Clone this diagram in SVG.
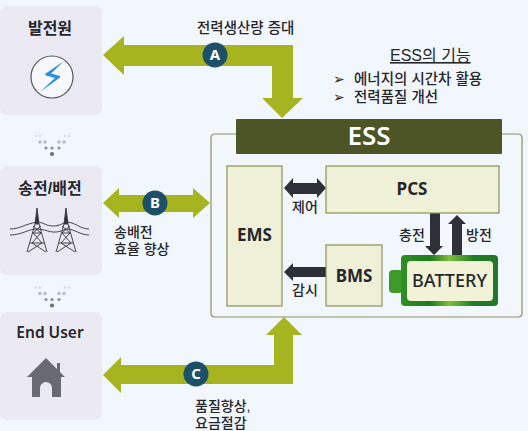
<svg xmlns="http://www.w3.org/2000/svg" width="528" height="431" viewBox="0 0 528 431">
<defs>
<style>
text{font-family:"Liberation Sans","Noto Sans CJK KR","Noto Sans",sans-serif;fill:#26262b}
.t{font-size:14px;font-weight:500}
.l{font-size:14.5px;font-weight:500}
.h{font-size:16px;font-weight:700;text-anchor:middle}
.b{font-size:17px;font-weight:700;text-anchor:middle;font-family:"Noto Sans","Noto Sans CJK KR",sans-serif}
.panel{fill:#ebeaf3}
.green{fill:#a6b41f}
.dark{fill:#2e3038}
.box{fill:#eff0d8;stroke:#8c9150;stroke-width:1.2}
.badge{fill:#1c4f68}
.bt{font-size:15px;font-weight:700;fill:#fff;text-anchor:middle;font-family:"Noto Sans",sans-serif}
.tower{fill:none;stroke:#33333a;stroke-width:.9}
</style>
<linearGradient id="batt" x1="0" y1="0" x2="1" y2="0">
<stop offset="0" stop-color="#2f8f24"/><stop offset=".3" stop-color="#1f7a1f"/><stop offset=".5" stop-color="#7fbf3a"/><stop offset=".75" stop-color="#1f7d22"/><stop offset="1" stop-color="#23762a"/>
</linearGradient>
<g id="dots">
<circle cx="36" cy="136" r="1.3" fill="#dcdce6"/><circle cx="40" cy="136" r="1.3" fill="#dcdce6"/><circle cx="65" cy="136" r="1.3" fill="#dcdce6"/><circle cx="69" cy="136" r="1.3" fill="#dcdce6"/>
<circle cx="40" cy="142" r="1.7" fill="#b8b8c6"/><circle cx="45" cy="142" r="1.7" fill="#b8b8c6"/><circle cx="59" cy="142" r="1.7" fill="#b8b8c6"/><circle cx="64" cy="142" r="1.7" fill="#b8b8c6"/>
<circle cx="46" cy="148" r="1.6" fill="#8f8f9c"/><circle cx="52" cy="148" r="1.6" fill="#8f8f9c"/><circle cx="59" cy="148" r="1.6" fill="#8f8f9c"/>
<circle cx="52" cy="154" r="2.1" fill="#6f6f7c"/>
</g>
</defs>
<rect width="528" height="431" fill="#f2f6fd"/>
<g id="node-generation">
<rect x="0" y="6" width="102" height="109" rx="7" class="panel"/>
<text x="50" y="34" class="h">발전원</text>
<circle cx="52" cy="77" r="21" fill="#f7f8fc" stroke="#55555f" stroke-width="1.2"/>
<path d="M64 61L45 74L46 75.500L55 78L40 92L60 77.500L60 76L51 73.500Z" fill="#2a8fe0"/>
</g>
<g id="node-transmission">
<rect x="0" y="166" width="102" height="109" rx="7" class="panel"/>
<text x="50" y="194" class="h">송전/배전</text>
<g id="towers" class="tower">
<path d="M37 208L39 224H35ZM66 208L68 224H64Z" fill="#33333a"/>
<path d="M27 252L35 224M47 252L39 224M56 252L64 224M76 252L68 224M30 243H44M59 243H73M33 233H41M62 233H70M28 252L42 243L33 233L41 226M46 252L32 243L41 233L33 226M57 252L71 243L62 233L70 226M75 252L61 243L70 233L62 226"/>
<path d="M10 229C20 229 25 224 37 222C45 222 50 231 66 222C75 222 80 229 89 229M10 235C22 235 28 229 37 229C48 229 52 236 66 229C75 229 80 235 89 235"/>
</g>
</g>
<g id="node-enduser">
<rect x="0" y="312" width="102" height="108" rx="7" class="panel"/>
<text x="50" y="338" style="font-family:'Noto Sans',sans-serif;font-size:15.500px;font-weight:600;text-anchor:middle">End User</text>
<path d="M46 358L27 377H32V397H40V388A6 6 0 0 1 52 388V397H61V377H65L60 372V363H57V369Z" fill="#6a6a72"/>
</g>
<use href="#dots"/>
<use href="#dots" transform="translate(0 151.500)"/>
<g id="connectors">
<path class="green" d="M103 55L124 36V45H293V98H303L282 118L262 98H272V66H124V75Z"/>
<path class="green" d="M103 203L119 188V195H193V188L210 203L193 218V212H119V218Z"/>
<path class="green" d="M103 375L121 357V365H274V335H266L284 317L302 335H293V384H121V393Z"/>
<path class="dark" d="M284 188L293 178V183H317V178L326 188L317 198V194H293V198Z"/>
<path class="dark" d="M284 272L293 263V267H326V277H293V281Z"/>
<path class="dark" d="M430 213H440V246H443L434 255L425 246H430Z"/>
<path class="dark" d="M452 255V224H448L457 215L466 224H462V255Z"/>
</g>
<g id="node-ess">
<path d="M236 134H215Q211 134 211 138V313Q211 317 215 317H518Q522 317 522 313V138Q522 134 518 134H500" fill="none" stroke="#8c9160" stroke-width="1.2"/>
<rect x="236" y="119" width="266" height="35" rx="1" fill="#4d5526"/>
<text x="369" y="145" text-anchor="middle" style="font-family:'Noto Sans',sans-serif;font-size:26px;font-weight:600;fill:#fff">ESS</text>
</g>
<g id="node-ems"><rect x="227" y="166" width="55" height="140" class="box"/><text x="254.500" y="241" class="b">EMS</text></g>
<g id="node-pcs"><rect x="326" y="166" width="173" height="47" class="box"/><text x="412" y="195" class="b">PCS</text></g>
<g id="node-bms"><rect x="326" y="245" width="56" height="61" class="box"/><text x="354" y="282" class="b">BMS</text></g>
<g id="node-battery">
<rect x="389" y="270" width="14" height="23" rx="4" fill="#3f9a2b"/>
<rect x="401" y="255" width="97" height="51" rx="4" fill="url(#batt)"/>
<rect x="407" y="261" width="86" height="40" rx="4" fill="#f1f2d6"/>
<text x="449.500" y="287" text-anchor="middle" style="font-family:'Noto Sans',sans-serif;font-size:18px;font-weight:500">BATTERY</text>
</g>
<g id="badges">
<circle cx="215" cy="55" r="12.500" class="badge"/><text x="215" y="60" class="bt">A</text>
<circle cx="155" cy="203" r="12.500" class="badge"/><text x="155" y="208" class="bt">B</text>
<circle cx="196" cy="374" r="12.500" class="badge"/><text x="196" y="379" class="bt">C</text>
</g>
<g id="labels">
<text x="197" y="33" class="l">전력생산량 증대</text>
<text x="390" y="61" style="font-size:16px;text-decoration:underline">ESS의 기능</text>
<text x="333" y="84" class="t">➢</text><text x="354" y="84" class="l">에너지의 시간차 활용</text>
<text x="333" y="102" class="t">➢</text><text x="354" y="102" class="l">전력품질 개선</text>
<text x="292" y="212" class="t">제어</text>
<text x="292" y="295" class="t">감시</text>
<text x="399" y="240" class="t">충전</text>
<text x="466" y="240" class="t">방전</text>
<text x="114" y="237" class="t">송배전</text>
<text x="114" y="254" class="t">효율 향상</text>
<text x="195" y="411" class="t">품질향상,</text>
<text x="195" y="428" class="t">요금절감</text>
</g>
</svg>
